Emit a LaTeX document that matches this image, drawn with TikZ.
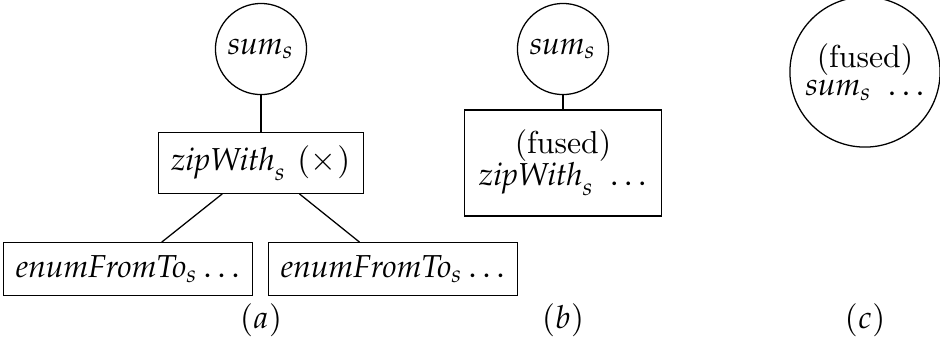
\documentclass[tikz,border=0pt]{standalone}
\usepackage{mathpazo}
\usetikzlibrary{positioning}

\begin{document}
\begin{tikzpicture}
[x=0.315pt,y=-0.315pt,
op/.style = {draw, circle, inner sep=0pt},
fun/.style = {draw, rectangle, inner sep=4pt},]
\useasboundingbox (0,0) rectangle (940,344);

% (a)
\node (S1) at (261,49)[op,minimum size=28.7pt] {$\mathit{sum}_s$};
\node (Z1) at (261,163)[fun] {$\mathit{zipWith}_s\ (\times)$};
\node (E1) at (128,269)[fun] {$\mathit{enumFromTo}_s\ldots$};
\node (E2) at (393,269)[fun] {$\mathit{enumFromTo}_s\ldots$};
\node (La) at (261,320) {$(a)$};

\draw (S1)--(Z1);
\draw (Z1)--(E1);
\draw (Z1)--(E2);

% (b)
\node (S2) at (563,49)[op,minimum size=28.7pt] {$\mathit{sum}_s$};
\node (Z2) at (563,163)[fun,align=center,minimum width=62pt,minimum height=33.4pt] {(fused)\\[-2pt] $\mathit{zipWith}_s\ \ldots$};
\node (Lb) at (563,320) {$(b)$};

\draw (S2)--(Z2);

% (c)
\node (S3) at (865,72)[op,align=center,minimum size=47.3pt] {(fused)\\[-3pt] $\mathit{sum}_s\ \ldots$};
\node (Lc) at (865,320) {$(c)$};

\end{tikzpicture}
\end{document}
